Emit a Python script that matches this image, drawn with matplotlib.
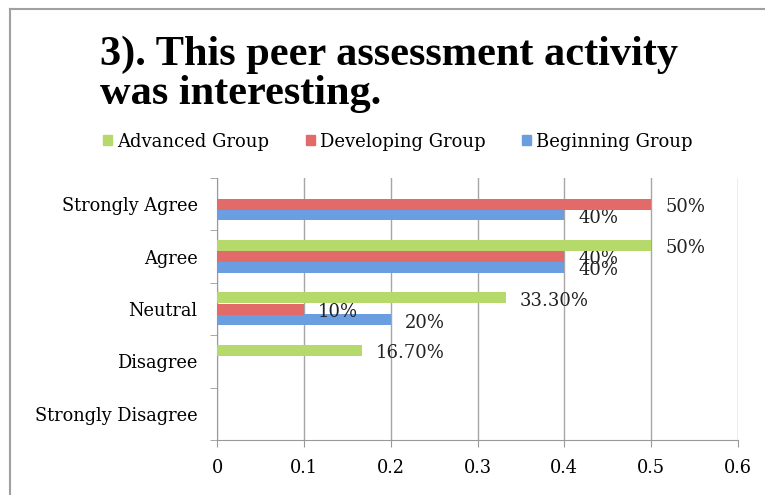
import matplotlib
matplotlib.use('Agg')
import matplotlib.pyplot as plt
from matplotlib.lines import Line2D
from matplotlib.patches import Patch
import numpy as np

# data (bottom to top on the y axis)
categories = ['Strongly Disagree', 'Disagree', 'Neutral', 'Agree', 'Strongly Agree']
beginning = [0, 0, 0.2, 0.4, 0.4]
developing = [0, 0, 0.1, 0.4, 0.5]
advanced = [0, 0.167, 0.333, 0.5, 0]
beginning_labels = ['', '', '20%', '40%', '40%']
developing_labels = ['', '', '10%', '40%', '50%']
advanced_labels = ['', '16.70%', '33.30%', '50%', '']
x_ticks = [0, 0.1, 0.2, 0.3, 0.4, 0.5, 0.6]
x_tick_labels = ['0', '0.1', '0.2', '0.3', '0.4', '0.5', '0.6']
title_lines = ['3). This peer assessment activity', 'was interesting.']

plt.rcParams['font.family'] = ['DejaVu Serif']

fig = plt.figure(figsize=(7.65, 4.95), dpi=100)
ax = fig.add_axes([0.2837, 0.1111, 0.6810, 0.5293])

y = np.arange(len(categories))
h = 0.21
series = [
    (beginning, beginning_labels, -0.205, '#6a9ee0', 'Beginning Group'),
    (developing, developing_labels, 0.0, '#e26b6a', 'Developing Group'),
    (advanced, advanced_labels, 0.215, '#b5d96a', 'Advanced Group'),
]
for vals, labs, off, col, name in series:
    ax.barh(y + off, vals, height=h, color=col, zorder=3)
    for yy, v, lab in zip(y + off, vals, labs):
        if lab:
            ax.annotate(lab, (v, yy), xytext=(10, -2), textcoords='offset points',
                        ha='left', va='center', fontsize=13, color='#222222')

ax.set_xlim(0, 0.6)
ax.set_ylim(-0.5, 4.5)
ax.set_xticks(x_ticks)
ax.set_xticklabels(x_tick_labels)
ax.set_yticks(y)
ax.set_yticklabels(categories)
ax.set_yticks(np.arange(-0.5, 5, 1), minor=True)
ax.tick_params(axis='y', which='major', length=0, pad=14, labelsize=12.8)
ax.tick_params(axis='y', which='minor', length=5, color='#999999', direction='out')
ax.tick_params(axis='x', length=5, color='#999999', direction='out', pad=9, labelsize=12.8)
ax.grid(axis='x', color='#a6a6a6', linewidth=1, zorder=0)
for s in ['top', 'right']:
    ax.spines[s].set_visible(False)
for s in ['left', 'bottom']:
    ax.spines[s].set_color('#999999')

# title, two lines placed on their baselines
fig.text(0.131, 1 - 65 / 495, title_lines[0], family='Liberation Serif',
         fontsize=30.5, fontweight='bold', ha='left', va='baseline')
fig.text(0.131, 1 - 104 / 495, title_lines[1], family='Liberation Serif',
         fontsize=30.5, fontweight='bold', ha='left', va='baseline')

# legend
handles = [Patch(color='#b5d96a', label='Advanced Group'),
           Patch(color='#e26b6a', label='Developing Group'),
           Patch(color='#6a9ee0', label='Beginning Group')]
fig.legend(handles=handles, loc='center', bbox_to_anchor=(0.52, 0.714), ncol=3,
           frameon=False, fontsize=13, handlelength=0.5, handleheight=0.5,
           handletextpad=0.3, columnspacing=2.0)

# frame of the original chart area
fig.add_artist(Line2D([0.013, 0.013], [0, 0.982], color='#a0a0a0', lw=1.5))
fig.add_artist(Line2D([0.013, 1], [0.982, 0.982], color='#a0a0a0', lw=1.5))

fig.savefig('out.png', dpi=100)
